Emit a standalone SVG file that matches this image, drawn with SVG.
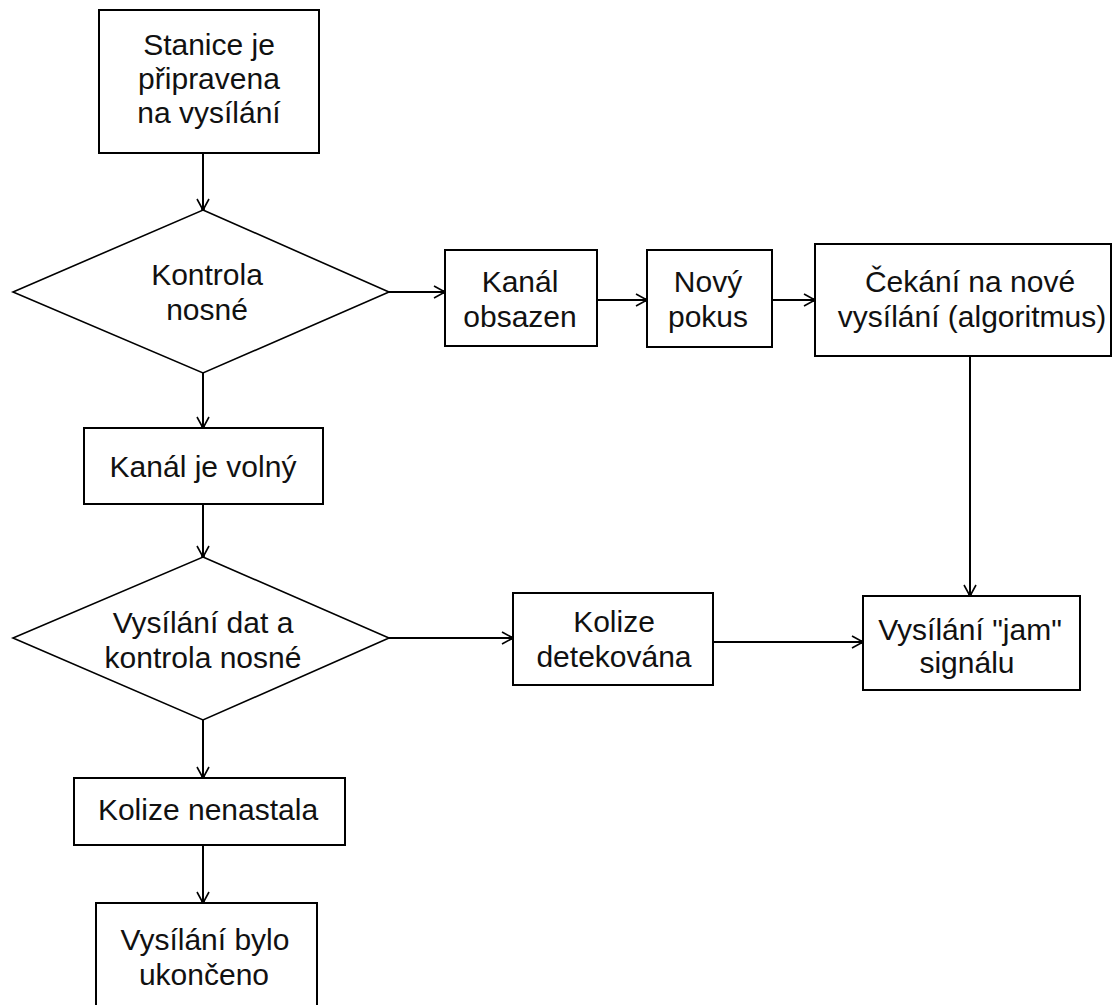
<svg xmlns="http://www.w3.org/2000/svg" width="1120" height="1005" viewBox="0 0 1120 1005">
  <style>
    .box { fill: #fff; stroke: #000; stroke-width: 2; }
    .dia { fill: #fff; stroke: #000; stroke-width: 1.6; }
    .lbl { font-family: "Liberation Sans", Arial, sans-serif; font-size: 30px; fill: #111; text-anchor: middle; }
    .edge { fill: none; stroke: #000; stroke-width: 2; marker-end: url(#arrow); }
  </style>
  <defs>
    <marker id="arrow" markerUnits="userSpaceOnUse" markerWidth="16" markerHeight="16" viewBox="-13 -8 16 16" refX="0" refY="0" orient="auto">
      <path d="M-11,-6 L0,0 L-11,6" fill="none" stroke="#000" stroke-width="1.6"/>
      <circle cx="-1" cy="0" r="2" fill="#000"/>
    </marker>
  </defs>
  <rect width="1120" height="1005" fill="#fff"/>

  <!-- flow connectors -->
  <g id="connectors">
    <line class="edge" x1="203" y1="153" x2="203" y2="210"/>
    <line class="edge" x1="203" y1="373" x2="203" y2="428"/>
    <line class="edge" x1="203" y1="504" x2="203" y2="557"/>
    <line class="edge" x1="203" y1="720" x2="203" y2="778"/>
    <line class="edge" x1="203" y1="845" x2="203" y2="903"/>
    <line class="edge" x1="389" y1="292" x2="445" y2="292"/>
    <line class="edge" x1="597" y1="300" x2="647" y2="300"/>
    <line class="edge" x1="772" y1="300" x2="815" y2="300"/>
    <line class="edge" x1="970" y1="356" x2="970" y2="596"/>
    <line class="edge" x1="389" y1="638" x2="513" y2="638"/>
    <line class="edge" x1="713" y1="642" x2="863" y2="642"/>
  </g>

  <g id="stanice">
    <rect class="box" x="99" y="10" width="220" height="143"/>
    <text class="lbl" x="209" y="55">Stanice je</text>
    <text class="lbl" x="209" y="89">připravena</text>
    <text class="lbl" x="209" y="123">na vysílání</text>
  </g>

  <g id="kontrola">
    <polygon class="dia" points="203,210 389,292 203,373 13,292"/>
    <text class="lbl" x="207" y="285">Kontrola</text>
    <text class="lbl" x="207" y="320">nosné</text>
  </g>

  <g id="obsazen">
    <rect class="box" x="445" y="250" width="152" height="96"/>
    <text class="lbl" x="520" y="292">Kanál</text>
    <text class="lbl" x="520" y="327">obsazen</text>
  </g>

  <g id="pokus">
    <rect class="box" x="647" y="250" width="125" height="97"/>
    <text class="lbl" x="708" y="292">Nový</text>
    <text class="lbl" x="708" y="327">pokus</text>
  </g>

  <g id="cekani">
    <rect class="box" x="815" y="244" width="296" height="112"/>
    <text class="lbl" x="970" y="292">Čekání na nové</text>
    <text class="lbl" x="972" y="327">vysílání (algoritmus)</text>
  </g>

  <g id="volny">
    <rect class="box" x="84" y="428" width="239" height="76"/>
    <text class="lbl" x="203" y="477">Kanál je volný</text>
  </g>

  <g id="vysilani-dat">
    <polygon class="dia" points="203,557 389,638 203,720 13,638"/>
    <text class="lbl" x="203" y="633">Vysílání dat a</text>
    <text class="lbl" x="203" y="668">kontrola nosné</text>
  </g>

  <g id="detekovana">
    <rect class="box" x="513" y="593" width="200" height="92"/>
    <text class="lbl" x="614" y="632">Kolize</text>
    <text class="lbl" x="614" y="667">detekována</text>
  </g>

  <g id="jam">
    <rect class="box" x="863" y="596" width="217" height="94"/>
    <text class="lbl" x="970" y="640">Vysílání "jam"</text>
    <text class="lbl" x="967" y="673">signálu</text>
  </g>

  <g id="nenastala">
    <rect class="box" x="74" y="778" width="271" height="67"/>
    <text class="lbl" x="208" y="820">Kolize nenastala</text>
  </g>

  <g id="ukonceno">
    <rect class="box" x="96" y="903" width="221" height="120"/>
    <text class="lbl" x="205" y="950">Vysílání bylo</text>
    <text class="lbl" x="204" y="985">ukončeno</text>
  </g>
</svg>
